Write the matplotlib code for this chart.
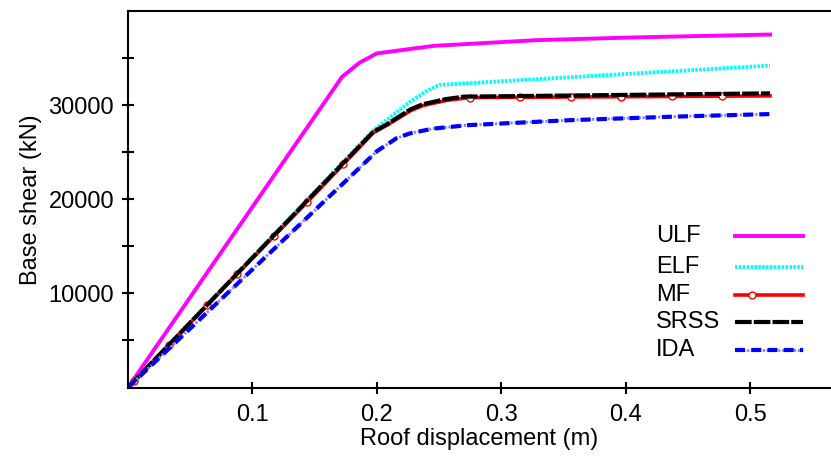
import matplotlib
matplotlib.use('Agg')
import matplotlib.pyplot as plt
from matplotlib.ticker import FixedLocator

# pushover curves (roof displacement in m, base shear in kN)
ulf_x = [0, 0.172, 0.186, 0.200, 0.246, 0.328, 0.409, 0.516]
ulf_y = [0, 33000, 34500, 35500, 36300, 36900, 37200, 37500]

elf_x = [0, 0.197, 0.2267, 0.240, 0.250, 0.516]
elf_y = [0, 27300, 30350, 31500, 32150, 34200]

mf_x = [0, 0.005, 0.033, 0.0635, 0.088, 0.117, 0.144, 0.173, 0.197, 0.208, 0.227,
        0.237, 0.256, 0.2745, 0.315, 0.356, 0.396, 0.437, 0.477, 0.516]
mf_y = [0, 690, 4540, 8730, 12100, 16050, 19700, 23700, 27050, 27850, 29400,
        29950, 30500, 30800, 30830, 30860, 30890, 30920, 30950, 30980]
mf_marks = [1, 2, 3, 4, 5, 6, 7, 13, 14, 15, 16, 17, 18]

srss_x = [0, 0.197, 0.208, 0.227, 0.237, 0.256, 0.270, 0.516]
srss_y = [0, 27150, 27950, 29550, 30100, 30650, 30900, 31250]

ida_x = [0, 0.185, 0.200, 0.216, 0.2267, 0.245, 0.273, 0.355, 0.437, 0.516]
ida_y = [0, 23200, 25100, 26500, 27000, 27500, 27870, 28400, 28770, 29050]

labels = ['ULF', 'ELF', 'MF', 'SRSS', 'IDA']

plt.rcParams['font.family'] = ['Liberation Sans', 'DejaVu Sans']
plt.rcParams['font.size'] = 17

fig = plt.figure(figsize=(8.31, 4.57), dpi=100)
ax = fig.add_axes([128 / 831, 1 - 387.5 / 457, 1 - 128 / 831, 376.5 / 457])

styles = {
    'ULF': dict(color='#ff00ff', lw=2.8, ls='-'),
    'ELF': dict(color='#00ffff', lw=2.8, ls=(0, (0.65, 0.35)), dash_capstyle='butt'),
    'MF': dict(color='#ff0000', lw=2.6, ls='-', marker='o', ms=5, mfc='white',
               mec='#ff0000', mew=1.0),
    'SRSS': dict(color='black', lw=3.0, ls=(0, (4.0, 0.5)), dash_capstyle='butt'),
}

ax.plot(ulf_x, ulf_y, **styles['ULF'])
ax.plot(elf_x, elf_y, **styles['ELF'])
ax.plot(mf_x, mf_y, markevery=mf_marks, **styles['MF'])
ax.plot(srss_x, srss_y, **styles['SRSS'])
# IDA: thin light dotted under thick blue dashes
ax.plot(ida_x, ida_y, color='#8080ff', lw=2.0, ls=(0, (0.8, 0.6)), dash_capstyle='butt')
ax.plot(ida_x, ida_y, color='#0000ff', lw=3.0, ls=(0, (2.4, 1.5)), dash_capstyle='butt')

ax.set_xlim(0, 0.565)
ax.set_ylim(0, 40000)
ax.set_xticks([0.1, 0.2, 0.3, 0.4, 0.5])
ax.set_yticks([10000, 20000, 30000])
ax.yaxis.set_minor_locator(FixedLocator([5000, 15000, 25000, 35000]))
ax.tick_params(axis='both', which='both', direction='inout', length=8, width=1.5,
               labelsize=17)
ax.tick_params(axis='y', pad=6)
ax.tick_params(axis='x', pad=8)

for side in ['left', 'bottom', 'top']:
    ax.spines[side].set_linewidth(1.5)
ax.spines['right'].set_visible(False)

ax.set_xlabel('Roof displacement (m)', labelpad=1)
ax.set_ylabel('Base shear (kN)', labelpad=5)

# gnuplot-style key: labels left, samples right
def fx(px):
    return (px - 128) / 703

def fy(py):
    return (387.5 - py) / 376.5

rows = [235.7, 266.7, 295.0, 322.3, 350.0]
x0, x1 = fx(735), fx(803)
for lab, py in zip(labels, rows):
    ax.text(fx(656), fy(py), lab, transform=ax.transAxes, va='center', ha='left',
            fontsize=17)
    y = fy(py)
    if lab == 'IDA':
        ax.plot([x0, x1], [y, y], transform=ax.transAxes, color='#8080ff', lw=2.0,
                ls=(0, (0.8, 0.6)), dash_capstyle='butt', clip_on=False)
        ax.plot([x0, x1], [y, y], transform=ax.transAxes, color='#0000ff', lw=3.0,
                ls=(0, (2.4, 1.5)), dash_capstyle='butt', clip_on=False)
    elif lab == 'MF':
        xm = x0 + 0.25 * (x1 - x0)
        ax.plot([x0, xm, x1], [y, y, y], transform=ax.transAxes, markevery=[1],
                clip_on=False, **styles['MF'])
    else:
        ax.plot([x0, x1], [y, y], transform=ax.transAxes, clip_on=False, **styles[lab])

fig.savefig('out.png', dpi=100)
